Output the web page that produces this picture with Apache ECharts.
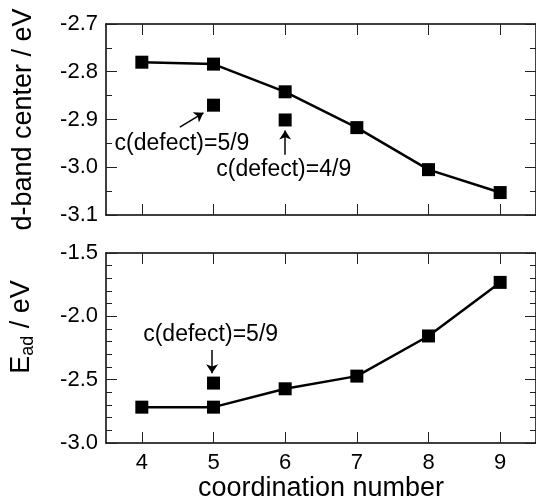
<!DOCTYPE html>
<html>
<head>
<meta charset="utf-8">
<script src="https://cdn.jsdelivr.net/npm/echarts@6/dist/echarts.min.js"></script>
<style>
  html, body { margin: 0; padding: 0; background: #fff; }
  #chart { width: 536px; height: 497px; }
</style>
</head>
<body>
<div id="chart"></div>
<script>
// Coordination numbers shared by both panels
const coordination = [4, 5, 6, 7, 8, 9];

// Upper panel: d-band centre (eV)
const dBandCenter = [-2.780, -2.784, -2.842, -2.917, -3.005, -3.053];
const dBandDefectCN = [5, 6];
const dBandDefect = [-2.870, -2.901];

// Lower panel: adsorption energy (eV)
const adsorption = [-2.717, -2.717, -2.572, -2.472, -2.155, -1.732];
const adsorptionDefectCN = [5];
const adsorptionDefect = [-2.527];

// Tick labels on the shared coordination axis
const xTickValues = [4, 5, 6, 7, 8, 9];

// Annotation texts
const noteTexts = ['c(defect)=5/9', 'c(defect)=4/9', 'c(defect)=5/9'];

// Annotation anchors and arrows, in data units
const topNoteAnchors = [[4.56, -2.951], [5.98, -3.005]];
const topArrows = [
  [[4.53, -2.916], [4.86, -2.886]],
  [[6.0, -2.974], [6.0, -2.923]]
];
const bottomNoteAnchors = [[4.96, -2.145]];
const bottomArrows = [
  [[4.98, -2.266], [4.98, -2.450]]
];

const FONT = '"Liberation Sans", Arial, Helvetica, sans-serif';
const BLACK = '#000';

const zip = (xs, ys) => xs.map((x, i) => [x, ys[i]]);

const axisLine = { show: true, onZero: false, lineStyle: { color: BLACK, width: 1.5 } };

function xAxisFor(gridIndex, position, withLabels) {
  const ax = {
    type: 'value',
    gridIndex,
    position,
    min: 3.5,
    max: 9.5,
    axisLine,
    splitLine: { show: false },
    axisTick: {
      show: true, inside: true, length: 11,
      customValues: xTickValues,
      lineStyle: { color: '#222', width: 1 }
    },
    axisLabel: { show: false }
  };
  if (withLabels) {
    ax.axisLabel = {
      show: true, customValues: xTickValues, margin: 9,
      fontFamily: FONT, fontSize: 22, color: BLACK
    };
    ax.name = 'coordination number';
    ax.nameLocation = 'middle';
    ax.nameGap = 31;
    ax.nameTextStyle = { fontFamily: FONT, fontSize: 27, color: BLACK };
  }
  return ax;
}

function yAxisFor(gridIndex, position, min, max, interval, minorSplit, withLabels) {
  return {
    type: 'value',
    gridIndex,
    position,
    min, max, interval,
    axisLine,
    splitLine: { show: false },
    axisTick: { show: true, inside: true, length: 11, lineStyle: { color: '#222', width: 1 } },
    minorTick: { show: true, splitNumber: minorSplit, length: 6, lineStyle: { color: '#222', width: 1 } },
    minorSplitLine: { show: false },
    axisLabel: {
      show: withLabels, margin: 8,
      fontFamily: FONT, fontSize: 22, color: BLACK,
      formatter: v => v.toFixed(1)
    }
  };
}

const yLeftTop = yAxisFor(0, 'left', -3.1, -2.7, 0.1, 2, true);
yLeftTop.name = 'd-band center / eV';
yLeftTop.nameLocation = 'middle';
yLeftTop.nameGap = 69;
yLeftTop.nameTextStyle = { fontFamily: FONT, fontSize: 27, color: BLACK };

const yLeftBottom = yAxisFor(1, 'left', -3.0, -1.5, 0.5, 5, true);
yLeftBottom.name = '{e|E}{sub|ad}{e| / eV}';
yLeftBottom.nameLocation = 'middle';
yLeftBottom.nameGap = 69;
yLeftBottom.nameTextStyle = {
  fontFamily: FONT, fontSize: 27, color: BLACK,
  padding: [0, 0, 0, 42],
  rich: {
    e: { fontFamily: FONT, fontSize: 27, color: BLACK, lineHeight: 30 },
    sub: { fontFamily: FONT, fontSize: 18, color: BLACK, lineHeight: 14, verticalAlign: 'bottom' }
  }
};

const markerStyle = { color: BLACK, opacity: 1 };
const lineStyle = { color: BLACK, width: 2.5 };

function noteSeries(xAxisIndex, yAxisIndex, anchors, texts) {
  return {
    type: 'scatter',
    xAxisIndex, yAxisIndex,
    silent: true,
    symbolSize: 0,
    itemStyle: { opacity: 1 },
    data: anchors.map((p, i) => ({ value: p, name: texts[i] })),
    label: {
      show: true, position: 'inside',
      formatter: p => p.name,
      fontFamily: FONT, fontSize: 23, color: BLACK, opacity: 1
    },
    z: 5
  };
}

function arrowMarks(arrows) {
  return {
    silent: true,
    symbol: ['none', 'arrow'],
    symbolSize: 9,
    label: { show: false },
    lineStyle: { color: BLACK, width: 1.5, type: 'solid', opacity: 1 },
    itemStyle: { color: BLACK, opacity: 1 },
    emphasis: { disabled: true },
    data: arrows.map(a => [{ coord: a[0] }, { coord: a[1] }])
  };
}

const option = {
  animation: false,
  backgroundColor: '#fff',
  grid: [
    { left: 106, top: 24, width: 430, height: 191, containLabel: false, outerBoundsMode: 'none' },
    { left: 106, top: 253, width: 430, height: 190, containLabel: false, outerBoundsMode: 'none' }
  ],
  xAxis: [
    xAxisFor(0, 'bottom', false),
    xAxisFor(0, 'top', false),
    xAxisFor(1, 'bottom', true),
    xAxisFor(1, 'top', false)
  ],
  yAxis: [
    yLeftTop,
    yAxisFor(0, 'right', -3.1, -2.7, 0.1, 2, false),
    yLeftBottom,
    yAxisFor(1, 'right', -3.0, -1.5, 0.5, 5, false)
  ],
  series: [
    {
      type: 'line', xAxisIndex: 0, yAxisIndex: 0,
      data: zip(coordination, dBandCenter),
      symbol: 'rect', symbolSize: 13, showAllSymbol: true,
      itemStyle: markerStyle, lineStyle
    },
    {
      type: 'scatter', xAxisIndex: 0, yAxisIndex: 0,
      data: zip(dBandDefectCN, dBandDefect),
      symbol: 'rect', symbolSize: 13,
      itemStyle: markerStyle,
      markLine: arrowMarks(topArrows)
    },
    noteSeries(0, 0, topNoteAnchors, noteTexts.slice(0, 2)),
    {
      type: 'line', xAxisIndex: 2, yAxisIndex: 2,
      data: zip(coordination, adsorption),
      symbol: 'rect', symbolSize: 13, showAllSymbol: true,
      itemStyle: markerStyle, lineStyle
    },
    {
      type: 'scatter', xAxisIndex: 2, yAxisIndex: 2,
      data: zip(adsorptionDefectCN, adsorptionDefect),
      symbol: 'rect', symbolSize: 13,
      itemStyle: markerStyle,
      markLine: arrowMarks(bottomArrows)
    },
    noteSeries(2, 2, bottomNoteAnchors, noteTexts.slice(2))
  ]
};

const chart = echarts.init(document.getElementById('chart'), null, { renderer: 'canvas' });
chart.setOption(option);
</script>
</body>
</html>
